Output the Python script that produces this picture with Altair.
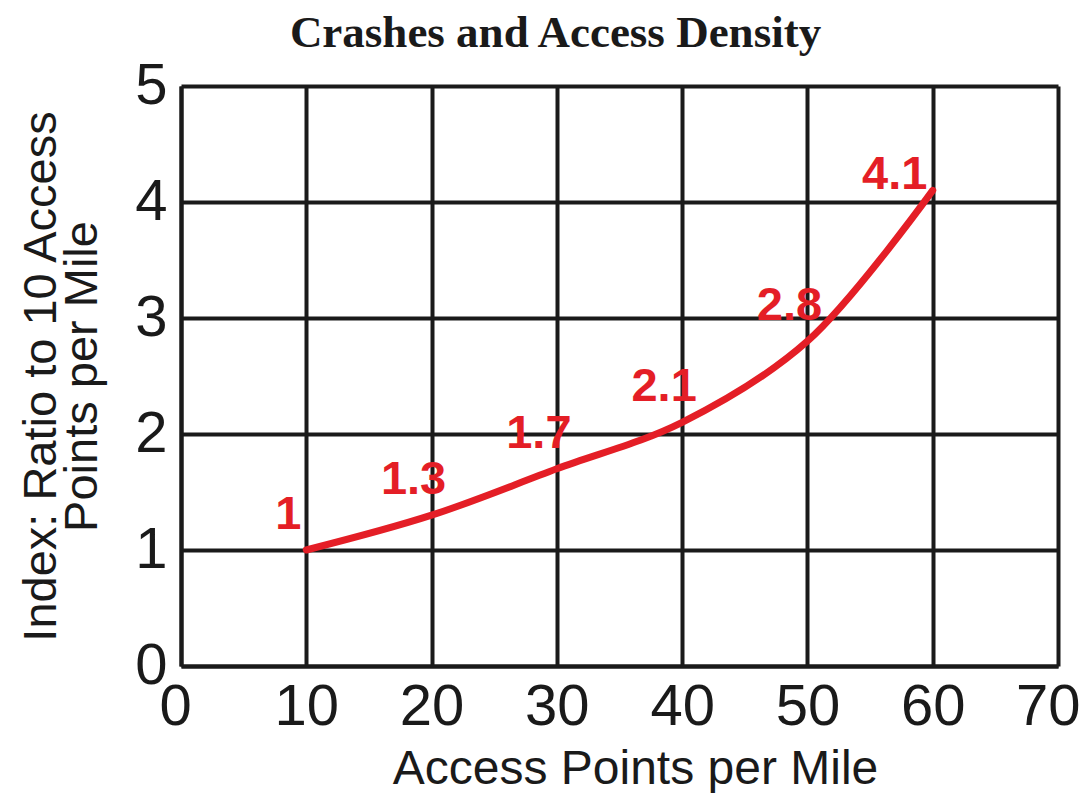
import altair as alt
import pandas as pd

access_points = [10, 20, 30, 40, 50, 60]
crash_index = [1, 1.3, 1.7, 2.1, 2.8, 4.1]
index_labels = ["1", "1.3", "1.7", "2.1", "2.8", "4.1"]

df = pd.DataFrame({"x": access_points, "y": crash_index, "label": index_labels})

RED = "#e41e26"
INK = "#1a1a1a"

x_enc = alt.X(
    "x:Q",
    scale=alt.Scale(domain=[0, 70], nice=False, zero=True),
    axis=alt.Axis(
        values=[0, 10, 20, 30, 40, 50, 60, 70],
        format="d",
        title="Access Points per Mile",
        titleFontSize=48,
        titleFont="Liberation Sans",
        titleFontWeight="normal",
        titleColor=INK,
        titleX=454,
        titleY=117,
        titleBaseline="alphabetic",
        titleAnchor="middle",
        labelFontSize=58,
        labelFont="Liberation Sans",
        labelColor=INK,
        labelPadding=12,
        labelFlush=True,
        labelFlushOffset=22,
        labelOverlap=False,
        ticks=False,
        domainColor=INK,
        domainWidth=4,
        gridColor=INK,
        gridWidth=4,
        gridOpacity=1,
    ),
)
y_enc = alt.Y(
    "y:Q",
    scale=alt.Scale(domain=[0, 5], nice=False),
    axis=alt.Axis(
        values=[0, 1, 2, 3, 4, 5],
        format="d",
        title=["Index: Ratio to 10 Access", "Points per Mile"],
        titleFontSize=47,
        titleFont="Liberation Sans",
        titleFontWeight="normal",
        titleColor=INK,
        titleAngle=270,
        titleX=-116,
        titleY=290,
        titleAlign="center",
        titleBaseline="bottom",
        titleLineHeight=41,
        labelFontSize=58,
        labelFont="Liberation Sans",
        labelColor=INK,
        labelPadding=14,
        labelFlush=False,
        labelOverlap=False,
        ticks=False,
        domainColor=INK,
        domainWidth=4,
        gridColor=INK,
        gridWidth=4,
        gridOpacity=1,
    ),
)

base = alt.Chart(df)

line = base.mark_line(color=RED, strokeWidth=7, interpolate="catmull-rom", strokeCap="round").encode(
    x=x_enc, y=y_enc
)

labels = base.transform_filter("datum.x < 60").mark_text(
    font="Liberation Sans", fontSize=47, fontWeight="bold", color=RED,
    dx=-18, dy=-35, align="center", baseline="middle",
).encode(x="x:Q", y="y:Q", text="label:N")

last_label = base.transform_filter("datum.x == 60").mark_text(
    font="Liberation Sans", fontSize=47, fontWeight="bold", color=RED,
    dx=-38, dy=-15, align="center", baseline="middle",
).encode(x="x:Q", y="y:Q", text="label:N")

chart = (
    alt.layer(line, labels, last_label)
    .properties(
        width=877,
        height=580,
        title=alt.TitleParams(
            "Crashes and Access Density",
            font="Liberation Serif",
            fontSize=45,
            fontWeight="bold",
            color=INK,
            anchor="middle",
            dx=-64,
            offset=1,
        ),
        autosize=alt.AutoSizeParams(type="none"),
        padding={"left": 173, "top": 78, "right": 25, "bottom": 127},
    )
    .configure_view(stroke=INK, strokeWidth=4)
    .configure(background="white")
)

chart.save("out.html", embed_options={"renderer": "svg", "actions": False})
